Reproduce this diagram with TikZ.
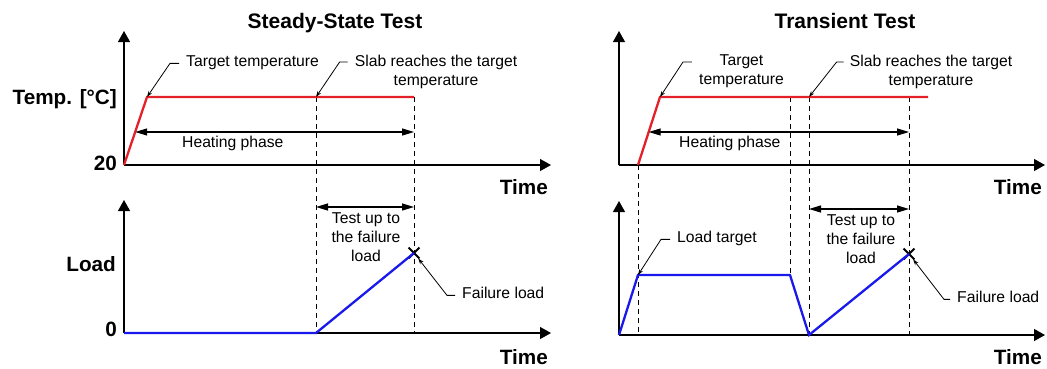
\documentclass[tikz,border=0pt]{standalone}
\usepackage{fontspec}
\setmainfont{Liberation Sans}
\usetikzlibrary{arrows.meta,shapes.misc}
\definecolor{hotred}{RGB}{228,32,40}
\definecolor{loadblue}{RGB}{25,25,235}
\tikzset{
  axis/.style={line width=1.2pt, -{Triangle[length=11pt,width=12pt]}},
  curvered/.style={hotred, line width=2.3pt},
  curveblue/.style={loadblue, line width=2.3pt},
  guide/.style={dash pattern=on 5pt off 4pt, line width=0.9pt},
  span/.style={line width=1.2pt, {Triangle[length=12pt,width=7pt]}-{Triangle[length=12pt,width=7pt]}},
  leader/.style={line width=0.8pt, -{Stealth[length=6pt,width=4pt]}},
  lbl/.style={inner sep=0pt, font=\fontsize{15.7}{19}\selectfont},
  axlbl/.style={inner sep=0pt, font=\fontsize{20.7}{24}\selectfont\bfseries},
  ttl/.style={inner sep=0pt, font=\fontsize{21}{25}\selectfont\bfseries},
  failmark/.style={cross out, draw, line width=1.8pt, minimum size=9pt, inner sep=0pt},
}
\begin{document}
\begin{tikzpicture}[x=1pt,y=-1pt]
\useasboundingbox (0,0) rectangle (1047,368);

% ---------------- left panel: coordinates
\coordinate (LO) at (124,165);
\coordinate (LYt) at (124,31);
\coordinate (LXt) at (551,165);
\coordinate (LA) at (147,97);
\coordinate (LB) at (414,97);
\coordinate (LS) at (316,97);
\coordinate (LH1) at (135.2,132);
\coordinate (LH2) at (414,132);
\coordinate (LBO) at (124,333);
\coordinate (LBYt) at (124,200);
\coordinate (LBXt) at (551,333);
\coordinate (LBS) at (316,333);
\coordinate (LBE) at (414,333);
\coordinate (LT1) at (316,207);
\coordinate (LT2) at (414,207);

% ---------------- right panel: coordinates
\coordinate (RO) at (619,165);
\coordinate (RYt) at (619,31);
\coordinate (RXt) at (1045,165);
\coordinate (R0) at (638,165);
\coordinate (RA) at (660,97);
\coordinate (RE) at (928,97);
\coordinate (RU) at (790,97);
\coordinate (RS) at (809,97);
\coordinate (RF) at (909,97);
\coordinate (RH1) at (648.7,132);
\coordinate (RH2) at (909,132);
\coordinate (RBO) at (619,335);
\coordinate (RBYt) at (619,201);
\coordinate (RBXt) at (1045,335);
\coordinate (RB0) at (638,335);
\coordinate (RL1) at (638,275);
\coordinate (RL2) at (790,275);
\coordinate (RL3) at (809,335);
\coordinate (RBF) at (909,335);
\coordinate (RT1) at (809,209);
\coordinate (RT2) at (909,209);

% ---------------- dashed guides
\draw[guide] (LS) -- (LBS);
\draw[guide] (LB) -- (LBE);
\draw[guide] (R0) -- (RB0);
\draw[guide] (RU) -- (RL2);
\draw[guide] (RS) -- (RL3);
\draw[guide] (RF) -- (RBF);

% ---------------- axes
\draw[axis] (LO) -- (LYt);
\draw[axis] (LO) -- (LXt);
\draw[axis] (LBO) -- (LBYt);
\draw[axis] (LBO) -- (LBXt);
\draw[axis] (RO) -- (RYt);
\draw[axis] (RO) -- (RXt);
\draw[axis] (RBO) -- (RBYt);
\draw[axis] (RBO) -- (RBXt);

% ---------------- curves
\draw[curvered] (LO) -- (LA) -- (LB);
\draw[curvered] (R0) -- (RA) -- (RE);
\node[failmark] (XL) at (414,253) {};
\node[failmark] (XR) at (909,254) {};
\draw[curveblue] (LBO) -- (LBS) -- (XL.center);
\draw[curveblue] (RBO) -- (RL1) -- (RL2) -- (RL3) -- (XR.center);

% ---------------- spans
\draw[span] (LH1) -- (LH2);
\draw[span] (LT1) -- (LT2);
\draw[span] (RH1) -- (RH2);
\draw[span] (RT1) -- (RT2);

% ---------------- titles and axis labels
\node[ttl, anchor=base] (ttlL) at (335,28.5) {Steady-State Test};
\node[ttl, anchor=base] (ttlR) at (845,28.5) {Transient Test};
\node[axlbl, anchor=base east] (tempL) at (117,104) {Temp. [°C]};
\node[axlbl, anchor=base east] (twenty) at (117,170) {20};
\node[axlbl, anchor=base east] (loadL) at (116,271) {Load};
\node[axlbl, anchor=base east] (zero) at (117,336.5) {0};
\node[axlbl, anchor=base east] (timeLT) at (548,194.5) {Time};
\node[axlbl, anchor=base east] (timeLB) at (548,364) {Time};
\node[axlbl, anchor=base east] (timeRT) at (1042,194.5) {Time};
\node[axlbl, anchor=base east] (timeRB) at (1042,364) {Time};

% ---------------- annotations, left
\node[lbl, anchor=base west] (tgtL) at (186,66) {Target temperature};
\node[lbl, anchor=north, align=center] (slabL) at (436,54.7) {Slab reaches the target\\temperature};
\node[lbl, anchor=base west] (heatL) at (182,147) {Heating phase};
\node[lbl, anchor=north, align=center] (testL) at (366,212.7) {Test up to\\the failure\\load};
\node[lbl, anchor=base west] (failL) at (462,298) {Failure load};

% ---------------- annotations, right
\node[lbl, anchor=north, align=center] (tgtR) at (741.5,54.7) {Target\\temperature};
\node[lbl, anchor=north, align=center] (slabR) at (931,54.7) {Slab reaches the target\\temperature};
\node[lbl, anchor=base west] (heatR) at (679,147) {Heating phase};
\node[lbl, anchor=base west] (loadtgt) at (677,242) {Load target};
\node[lbl, anchor=north, align=center] (testR) at (861,214.7) {Test up to\\the failure\\load};
\node[lbl, anchor=base west] (failR) at (957,302) {Failure load};

% ---------------- leaders
\draw[leader] ([xshift=-7pt]tgtL.mid west) -- ++(-9,0) -- (LA);
\draw[leader] ([xshift=-7pt,yshift=-7.3pt]slabL.north west) -- ++(-8,0) -- (LS);
\draw[leader] ([xshift=-7pt]failL.mid west) -- ++(-8,0) -- (XL);
\draw[leader] ([xshift=-7pt,yshift=-7.3pt]tgtR.north west) -- ++(-9,0) -- (RA);
\draw[leader] ([xshift=-6pt,yshift=-7.3pt]slabR.north west) -- ++(-7,0) -- (RS);
\draw[leader] ([xshift=-7pt]loadtgt.mid west) -- ++(-9,0) -- (RL1);
\draw[leader] ([xshift=-7pt]failR.mid west) -- ++(-6,0) -- (XR);
\end{tikzpicture}
\end{document}
